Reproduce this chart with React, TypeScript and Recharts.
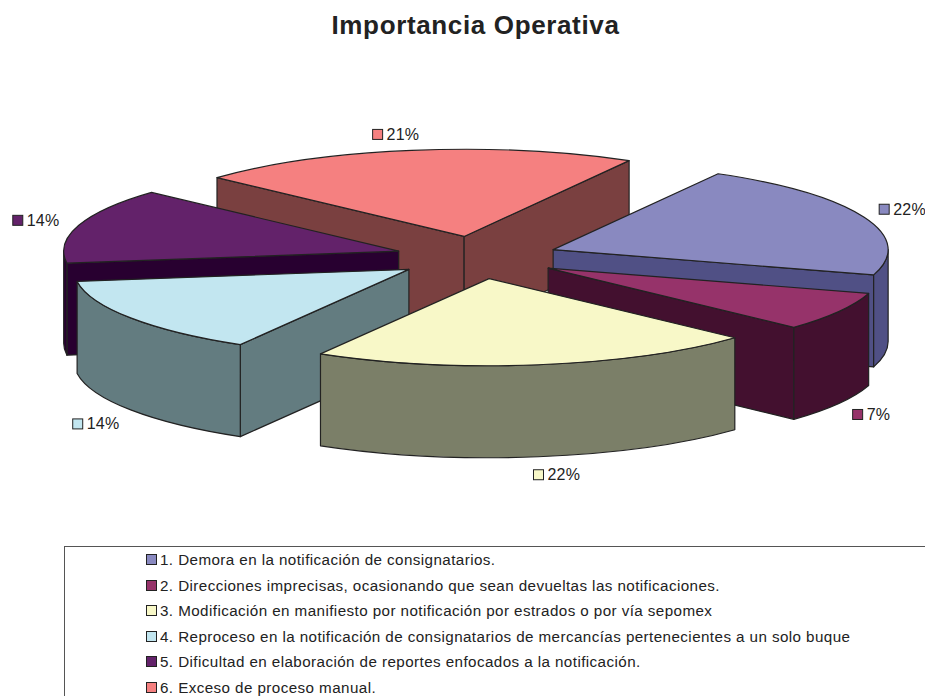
import React from "react";
import { PieChart, Pie, Legend } from "recharts";

const categories = [
  "1. Demora en la notificación de consignatarios.",
  "2. Direcciones imprecisas, ocasionando que sean devueltas las notificaciones.",
  "3. Modificación en manifiesto por notificación por estrados o por vía sepomex",
  "4. Reproceso en la notificación de consignatarios de mercancías pertenecientes a un solo buque",
  "5. Dificultad en elaboración de reportes enfocados a la notificación.",
  "6. Exceso de proceso manual.",
];
const shares = [21.5, 7.2, 21.5, 14.4, 14, 21.4];

const topColors = ["#8989C0", "#96336A", "#F8F8C8", "#C2E6F0", "#63226A", "#F58080"];
const wallColors = ["#505085", "#43102F", "#7B7F68", "#637C80", "#280030", "#7A4040"];
// back to front, so nearer slices paint over farther ones
const drawOrder = [5, 4, 0, 3, 1, 2];
// percentage label offset from the slice's outer rim point
const labelNudge = [
  [38, -8],
  [37, 11],
  [18, 18],
  [-35, 14],
  [-43, -5],
  [-16, -16],
];

const CX = 477;
const CY = 257.5;
const RADIUS = 335;
const TILT = 0.26;
const DEPTH = 92;
const EXPLODE = 82;
const INK = "#222222";

const chartData = categories.map((name, i) => ({ name, value: shares[i], fill: topColors[i] }));

const rad = (deg: number) => (deg * Math.PI) / 180;

// flatten a disc point: angle is recharts' (counter-clockwise from 3 o'clock)
const project = (ox: number, oy: number, angle: number, r: number) => ({
  x: ox + r * Math.cos(rad(angle)),
  y: oy - r * TILT * Math.sin(rad(angle)),
});

const Slice3D = ({ cx, cy, outerRadius, startAngle, endAngle, index }: any) => {
  const mid = (startAngle + endAngle) / 2;
  const apex = project(cx, cy, mid, EXPLODE);
  const a = project(apex.x, apex.y, startAngle, outerRadius);
  const b = project(apex.x, apex.y, endAngle, outerRadius);
  const rx = outerRadius;
  const ry = outerRadius * TILT;
  const common = { stroke: INK, strokeWidth: 1.2, strokeLinejoin: "round" as const };
  const wall = wallColors[index];

  const radialWall = (p: { x: number; y: number }) =>
    `M${apex.x},${apex.y} L${p.x},${p.y} L${p.x},${p.y + DEPTH} L${apex.x},${apex.y + DEPTH} Z`;

  const walls: string[] = [];
  if (Math.cos(rad(startAngle)) < 0) walls.push(radialWall(a));
  if (Math.cos(rad(endAngle)) > 0) walls.push(radialWall(b));

  // the rim is only seen where it faces the viewer, the lower half of the disc
  for (const turn of [0, -360]) {
    const from = Math.min(startAngle, turn);
    const to = Math.max(endAngle, turn - 180);
    if (from <= to) continue;
    const p = project(apex.x, apex.y, from, outerRadius);
    const q = project(apex.x, apex.y, to, outerRadius);
    walls.push(
      `M${p.x},${p.y} A${rx},${ry} 0 0 1 ${q.x},${q.y} L${q.x},${q.y + DEPTH} A${rx},${ry} 0 0 0 ${p.x},${p.y + DEPTH} Z`
    );
  }

  const labelAt = project(apex.x, apex.y, mid, outerRadius);
  const frontRim = Math.sin(rad(mid)) < 0 ? DEPTH : 0;
  const lx = labelAt.x + labelNudge[index][0];
  const ly = labelAt.y + frontRim + labelNudge[index][1];

  return (
    <g>
      {walls.map((d, i) => (
        <path key={i} d={d} fill={wall} {...common} />
      ))}
      <path
        d={`M${apex.x},${apex.y} L${a.x},${a.y} A${rx},${ry} 0 0 1 ${b.x},${b.y} Z`}
        fill={topColors[index]}
        {...common}
      />
      <rect x={lx - 23} y={ly - 5} width={10} height={10} fill={topColors[index]} stroke={INK} strokeWidth={1} />
      <text x={lx - 9} y={ly + 5.5} fontSize={16} letterSpacing={0.2} fill={INK} fontFamily="Liberation Sans">
        {Math.round(shares[index])}%
      </text>
    </g>
  );
};

const onlySlice = (which: number) => (props: any) =>
  props.index === which ? <Slice3D {...props} /> : <g />;

const LegendBox = () => (
  <div
    style={{
      boxSizing: "border-box",
      width: 861,
      height: 150,
      borderTop: "1px solid #555",
      borderLeft: "1px solid #555",
      paddingLeft: 81,
      fontFamily: "Liberation Sans",
      fontSize: 15.2,
      letterSpacing: 0.42,
      color: INK,
    }}
  >
    {categories.map((c, i) => (
      <div key={c} style={{ height: 25.5, display: "flex", alignItems: "center", whiteSpace: "nowrap" }}>
        <span
          style={{
            display: "inline-block",
            width: 9,
            height: 9,
            marginRight: 3,
            background: topColors[i],
            border: `1px solid ${INK}`,
          }}
        />
        {c}
      </div>
    ))}
  </div>
);

export default function App() {
  return (
    <div style={{ position: "absolute", left: 0, top: 0, width: 925, height: 696, overflow: "hidden", background: "#fff" }}>
      <div
        style={{
          position: "absolute",
          top: 10,
          width: 951,
          textAlign: "center",
          fontFamily: "Liberation Sans",
          fontWeight: 700,
          fontSize: 26,
          letterSpacing: 0.64,
          color: INK,
        }}
      >
        Importancia Operativa
      </div>
      <PieChart width={925} height={696} margin={{ top: 0, right: 0, bottom: 0, left: 0 }}>
        {drawOrder.map((which) => (
          <Pie
            key={which}
            data={chartData}
            dataKey="value"
            nameKey="name"
            cx={CX}
            cy={CY}
            outerRadius={RADIUS}
            startAngle={60.5}
            endAngle={-299.5}
            stroke="none"
            shape={onlySlice(which)}
            isAnimationActive={false}
          />
        ))}
        <Legend content={<LegendBox />} wrapperStyle={{ position: "absolute", left: 64, top: 546, width: 861, bottom: "auto" }} />
      </PieChart>
    </div>
  );
}
